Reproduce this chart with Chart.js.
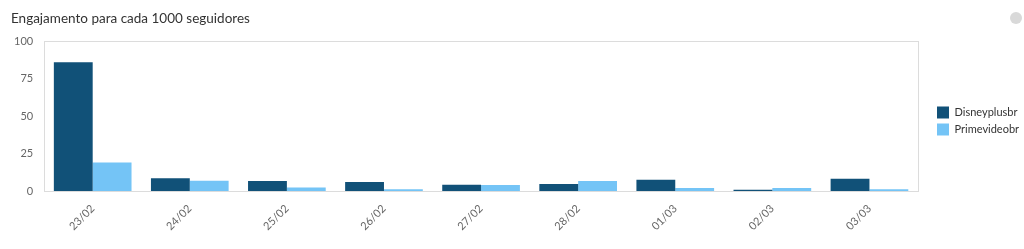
<!DOCTYPE html>
<html>
<head>
<meta charset="utf-8">
<script src="https://cdn.jsdelivr.net/npm/chart.js@4"></script>
<style>
    html, body { margin: 0; padding: 0; background: #fff; }
    #wrap { position: relative; width: 1024px; height: 249px; }
    #dot { position: absolute; left: 1010px; top: 12px; width: 12px; height: 12px; border-radius: 50%; background: #d9d9d9; }
</style>
</head>
<body>
<div id="wrap">
    <canvas id="engChart" width="1024" height="249"></canvas>
    <div id="dot"></div>
</div>
<script>
// datas do periodo
const labels = ['23/02', '24/02', '25/02', '26/02', '27/02', '28/02', '01/03', '02/03', '03/03'];
// engajamento por 1000 seguidores
const disneyValues = [86, 8.5, 6.7, 6.0, 4.2, 4.7, 7.6, 0.9, 8.3];
const primeValues = [19, 6.9, 2.4, 1.3, 4.0, 6.7, 2.0, 2.0, 1.3];
const yTicks = [0, 25, 50, 75, 100];

// caixa em volta da area do grafico
const boxPlugin = {
    id: 'box',
    afterDraw(chart) {
        const a = chart.chartArea;
        const ctx = chart.ctx;
        ctx.save();
        ctx.strokeStyle = '#dcdcdc';
        ctx.lineWidth = 1;
        ctx.strokeRect(Math.round(a.left) + 0.5, Math.round(a.top) + 0.5, Math.round(a.right - a.left), Math.round(a.bottom - a.top));
        ctx.restore();
    }
};

// legenda com largura fixa, deslocada um pouco para a direita
const legendWidthPlugin = {
    id: 'legendWidth',
    beforeLayout(chart) {
        const legend = chart.legend;
        if (!legend || legend._patched) return;
        legend._patched = true;
        const origFit = legend.fit;
        legend.fit = function () {
            origFit.call(this);
            this.width = 106;
        };
        const origDraw = legend.draw;
        legend.draw = function () {
            this.ctx.save();
            this.ctx.translate(14, 0);
            origDraw.call(this);
            this.ctx.restore();
        };
    }
};

Chart.defaults.font.family = 'Lato, "Open Sans", sans-serif';

const ctx = document.getElementById('engChart').getContext('2d');
const chart = new Chart(ctx, {
    type: 'bar',
    data: {
        labels: labels,
        datasets: [{
            label: 'Disneyplusbr',
            data: disneyValues,
            backgroundColor: '#115178',
            borderWidth: 0,
            categoryPercentage: 0.8,
            barPercentage: 1
        }, {
            label: 'Primevideobr',
            data: primeValues,
            backgroundColor: '#74C4F6',
            borderWidth: 0,
            categoryPercentage: 0.8,
            barPercentage: 1
        }]
    },
    options: {
        responsive: false,
        animation: false,
        layout: {
            padding: { left: 11, right: 0, top: 6, bottom: 13 }
        },
        plugins: {
            title: {
                display: true,
                text: 'Engajamento para cada 1000 seguidores',
                align: 'start',
                color: '#333',
                font: { size: 13.5, weight: 'normal' },
                padding: { top: 5, bottom: 14 }
            },
            legend: {
                position: 'right',
                labels: {
                    boxWidth: 12,
                    boxHeight: 12,
                    padding: 5,
                    color: '#333',
                    font: { size: 11 }
                }
            },
            tooltip: { enabled: false }
        },
        scales: {
            x: {
                grid: { display: false },
                border: { display: false },
                ticks: {
                    color: '#666',
                    font: { size: 11 },
                    maxRotation: 45,
                    minRotation: 45
                }
            },
            y: {
                min: 0,
                max: 100,
                grid: { display: false },
                border: { display: false },
                afterBuildTicks: axis => { axis.ticks = yTicks.map(v => ({ value: v })); },
                ticks: {
                    color: '#666',
                    font: { size: 11 },
                    padding: 3
                }
            }
        }
    },
    plugins: [boxPlugin, legendWidthPlugin]
});
</script>
</body>
</html>
